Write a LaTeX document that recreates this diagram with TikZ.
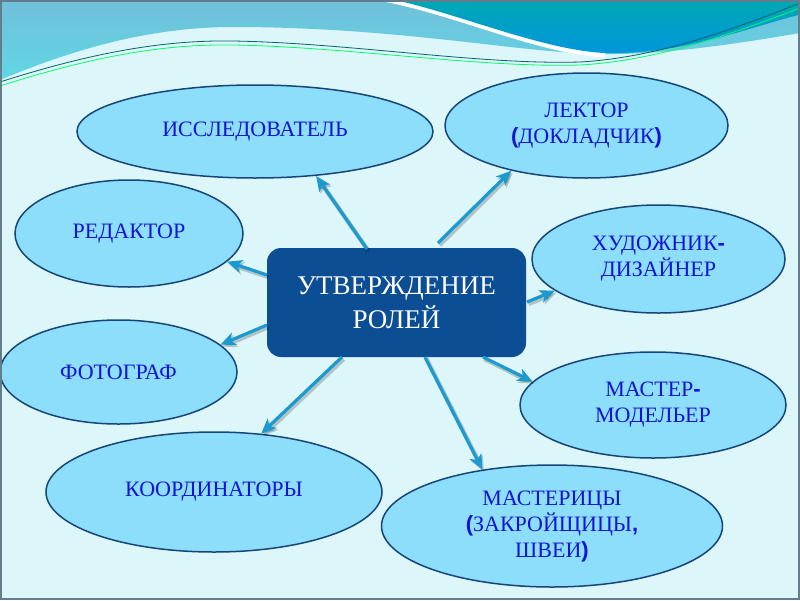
\documentclass[tikz,border=0pt]{standalone}
\usepackage{fontspec}
\setmainfont{Liberation Serif}
\setsansfont{Liberation Sans}
\usetikzlibrary{shapes.geometric,arrows.meta,positioning}
\definecolor{bgcyan}{RGB}{220,246,250}
\definecolor{bandblue}{RGB}{112,192,218}
\definecolor{bandcyan}{RGB}{98,214,228}
\definecolor{deepteal}{RGB}{0,168,178}
\definecolor{deepblue}{RGB}{0,150,222}
\definecolor{ellfill}{RGB}{140,222,250}
\definecolor{elldraw}{RGB}{22,70,120}
\definecolor{rolefg}{RGB}{20,20,210}
\definecolor{boxblue}{RGB}{11,78,148}
\definecolor{arrowblue}{RGB}{28,154,207}
\definecolor{framegray}{RGB}{100,125,140}
\tikzstyle{role}=[ellipse,draw=elldraw,fill=ellfill,line width=1.5pt,inner sep=0pt,align=center,text=rolefg,font=\fontsize{22}{26}\selectfont]
\tikzstyle{hub}=[rectangle,rounded corners=14pt,fill=boxblue,text=white,align=center,minimum width=259pt,minimum height=109pt,font=\fontsize{27}{34}\selectfont]
\tikzstyle{link}=[-{Stealth[length=15pt,width=13pt,inset=4pt]},line width=3.2pt,draw=arrowblue,
  preaction={draw=black,opacity=0.2,line width=4.5pt,transform canvas={xshift=1.5pt,yshift=-2pt}}]
\newcommand{\bp}[1]{{\sffamily\bfseries #1}}

\begin{document}
\begin{tikzpicture}[x=1pt,y=-1pt]
    \useasboundingbox (0,0) rectangle (800,600);
    \fill[bgcyan] (0,0) rectangle (800,600);
    
    % top waves
    \shade[top color=bandblue,bottom color=bandcyan] (0,0) -- (800,0) -- (800,33)
      .. controls (730,45) and (660,55) .. (600,54)
      .. controls (520,53) and (400,27) .. (233,27)
      .. controls (140,27) and (60,55) .. (0,80) -- cycle;
    \draw[white,line width=9pt] (378,-4) .. controls (450,8) and (540,50) .. (605,53);
    \shade[top color=deepteal,bottom color=deepblue] (385,-2)
      .. controls (450,10) and (540,50) .. (605,53)
      .. controls (680,55) and (740,30) .. (802,14) -- (802,-2) -- cycle;
    \draw[teal!80!black,line width=0.8pt] (0,82) .. controls (100,50) and (170,40) .. (233,41)
      .. controls (350,43) and (480,65) .. (580,62) .. controls (650,58) and (720,35) .. (800,3);
    \draw[green!60!cyan,line width=0.8pt] (0,86) .. controls (100,54) and (170,44) .. (233,45)
      .. controls (350,47) and (480,68) .. (580,65) .. controls (650,61) and (720,39) .. (800,8);
    
    \node[hub] (R) at (396.5,302.5) {УТВЕРЖДЕНИЕ\\РОЛЕЙ};
    
    \node[role,minimum width=356pt,minimum height=93pt]  (A) at (255,131.5) {ИССЛЕДОВАТЕЛЬ};
    \node[role,minimum width=283pt,minimum height=105pt] (B) at (586.5,125.5) {ЛЕКТОР\\\bp{(}ДОКЛАДЧИК\bp{)}};
    \node[role,minimum width=228pt,minimum height=107pt] (C) at (129,233.5) {РЕДАКТОР};
    \node[role,minimum width=253pt,minimum height=108pt] (D) at (658.5,259) {ХУДОЖНИК\bp{-}\\ДИЗАЙНЕР};
    \node[role,minimum width=237pt,minimum height=104pt] (E) at (118.5,372) {ФОТОГРАФ};
    \node[role,minimum width=266pt,minimum height=106pt] (F) at (653,405) {МАСТЕР\bp{-}\\МОДЕЛЬЕР};
    \node[role,minimum width=336pt,minimum height=120pt] (G) at (214,492) {КООРДИНАТОРЫ};
    \node[role,minimum width=341pt,minimum height=122pt] (H) at (552,526) {МАСТЕРИЦЫ\\\bp{(}ЗАКРОЙЩИЦЫ\bp{,}\\ШВЕИ\bp{)}};
    
    \coordinate (s1) at (367,249);
    \coordinate (s2) at (438,243);
    \coordinate (s3) at (267,275);
    \coordinate (s4) at (267,325);
    \coordinate (s5) at (527,302);
    \coordinate (s6) at (483,357);
    \coordinate (s7) at (342,357);
    \coordinate (s8) at (425,357);
    
    \draw[link] (s1) -- (A.-36.9);
    \draw[link] (s2) -- (B.-149.1);
    \draw[link] (s3) -- (C.-16.8);
    \draw[link] (s5) -- (D.-163.8);
    \draw[link] (s4) -- (E.15.2);
    \draw[link] (s6) -- (F.169.5);
    \draw[link] (s7) -- (G.51.7);
    \draw[link] (s8) -- (H.141.1);
    
    \draw[framegray,line width=2pt] (1,1) rectangle (799,599);
\end{tikzpicture}
\end{document}
